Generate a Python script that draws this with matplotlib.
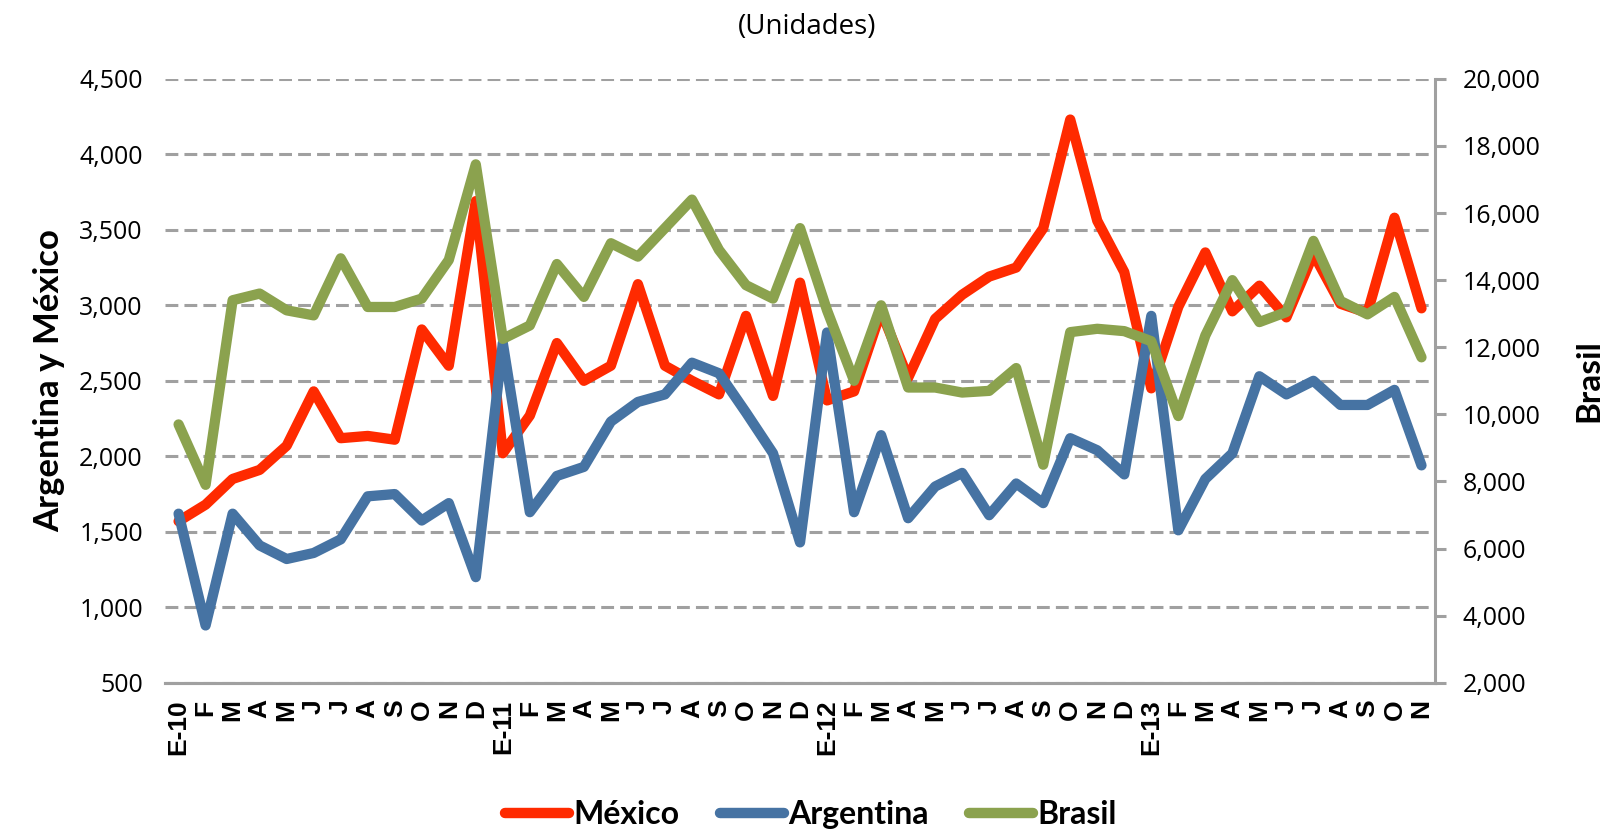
import matplotlib
matplotlib.use("Agg")
import matplotlib.pyplot as plt
from matplotlib.ticker import FuncFormatter, MultipleLocator

categories = ['E-10', 'F', 'M', 'A', 'M', 'J', 'J', 'A', 'S', 'O', 'N', 'D',
              'E-11', 'F', 'M', 'A', 'M', 'J', 'J', 'A', 'S', 'O', 'N', 'D',
              'E-12', 'F', 'M', 'A', 'M', 'J', 'J', 'A', 'S', 'O', 'N', 'D',
              'E-13', 'F', 'M', 'A', 'M', 'J', 'J', 'A', 'S', 'O', 'N']

mexico = [1570, 1680, 1850, 1910, 2070, 2430, 2120, 2135, 2110, 2840, 2600, 3690,
          2020, 2270, 2750, 2500, 2600, 3140, 2600, 2500, 2410, 2930, 2400, 3150,
          2370, 2430, 2960, 2520, 2910, 3070, 3190, 3250, 3510, 4230, 3560, 3220,
          2450, 2990, 3350, 2960, 3130, 2920, 3340, 3010, 2950, 3580, 2980]

argentina = [1620, 880, 1620, 1410, 1320, 1360, 1450, 1735, 1750, 1575, 1690, 1200,
             2750, 1630, 1870, 1930, 2230, 2360, 2410, 2620, 2550, 2290, 2020, 1430,
             2820, 1630, 2140, 1590, 1800, 1890, 1610, 1820, 1690, 2120, 2040, 1880,
             2930, 1510, 1850, 2020, 2530, 2410, 2500, 2340, 2340, 2440, 1940]

brasil = [9700, 7900, 13400, 13600, 13100, 12950, 14650, 13200, 13200, 13450, 14600, 17450,
          12250, 12650, 14480, 13500, 15100, 14700, 15550, 16400, 14900, 13850, 13450, 15550,
          13100, 11000, 13250, 10800, 10800, 10650, 10700, 11380, 8500, 12450, 12550, 12480,
          12180, 9950, 12350, 14000, 12750, 13050, 15170, 13380, 12980, 13500, 11700]

series_names = ['México', 'Argentina', 'Brasil']
colors = ['#FF2A00', '#4673A3', '#8BA24E']

fig = plt.figure(figsize=(16.12, 8.31), dpi=100)
ax = fig.add_axes([0.1024, 0.1783, 0.7878, 0.7269])
ax2 = ax.twinx()

x = list(range(len(categories)))
lw = 7.4
l1, = ax.plot(x, mexico, color=colors[0], lw=lw, solid_joinstyle='round', solid_capstyle='round', zorder=3)
l2, = ax.plot(x, argentina, color=colors[1], lw=lw, solid_joinstyle='round', solid_capstyle='round', zorder=4)
l3, = ax2.plot(x, brasil, color=colors[2], lw=lw, solid_joinstyle='round', solid_capstyle='round', zorder=3)

ax.set_xlim(-0.5, len(categories) - 0.5)
ax.set_ylim(500, 4500)
ax.yaxis.set_major_locator(MultipleLocator(500))
ax2.set_ylim(2000, 20000)
ax2.yaxis.set_major_locator(MultipleLocator(2000))

fmt = FuncFormatter(lambda v, p: f"{int(v):,}")
ax.yaxis.set_major_formatter(fmt)
ax2.yaxis.set_major_formatter(fmt)

grid_color = '#A0A0A0'
ax.grid(axis='y', color=grid_color, lw=2.2, linestyle=(0, (4.2, 2.0)))
ax.set_axisbelow(True)

for a in (ax, ax2):
    a.spines['top'].set_visible(False)
    a.spines['left'].set_visible(False)
    a.spines['right'].set_visible(False)
    a.spines['bottom'].set_color(grid_color)
    a.spines['bottom'].set_linewidth(2.2)
ax2.spines['right'].set_visible(True)
ax2.spines['right'].set_color(grid_color)
ax2.spines['right'].set_linewidth(2.2)

ax.set_xticks(x)
ax.set_xticklabels(categories, rotation=90, fontsize=19, fontweight='bold',
                   family='Liberation Sans', va='top', ha='center')
ax.tick_params(axis='x', length=0, pad=12)
ax.tick_params(axis='y', length=0, pad=16, labelsize=18)
ax2.tick_params(axis='y', length=8, width=2.2, color=grid_color, pad=12, labelsize=18)
for lab in ax.get_yticklabels() + ax2.get_yticklabels():
    lab.set_family('Open Sans')

ax.set_ylabel('Argentina y México', fontsize=25, fontweight='bold', family='Lato', labelpad=10)
ax2.set_ylabel('Brasil', fontsize=24, fontweight='bold', family='Lato', labelpad=24)

fig.text(0.5006, 0.968, '(Unidades)', ha='center', va='center', fontsize=20, family='Open Sans')

leg = fig.legend([l1, l2, l3], series_names, loc='center', bbox_to_anchor=(0.503, 0.02),
                 ncol=3, frameon=False, handlelength=2.0, handletextpad=0.15,
                 columnspacing=1.25, prop={'family': 'Lato', 'weight': 'bold', 'size': 23})
for h in leg.get_lines():
    h.set_linewidth(7.5)
    h.set_solid_capstyle('round')

fig.savefig('out.png', dpi=100)
